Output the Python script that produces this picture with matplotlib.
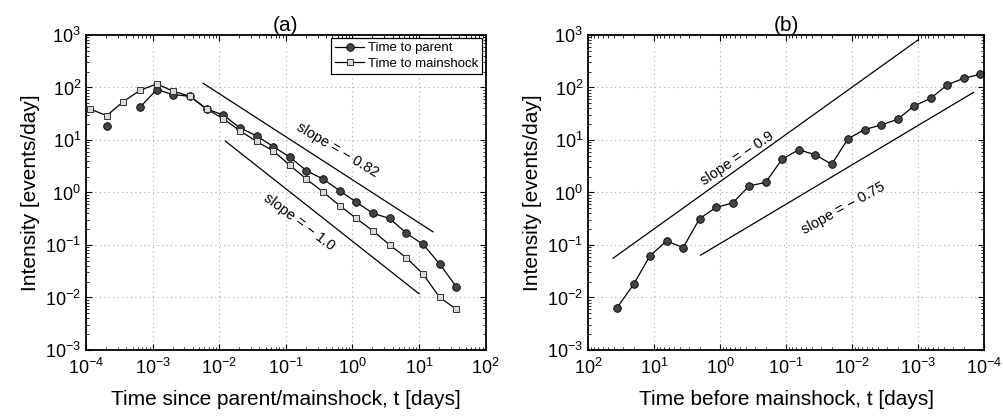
import numpy as np
import matplotlib
matplotlib.use("Agg")
import matplotlib.pyplot as plt
from matplotlib.ticker import LogLocator, NullFormatter

plt.rcParams["font.family"] = ["Liberation Sans", "DejaVu Sans"]
plt.rcParams["mathtext.fontset"] = "custom"
plt.rcParams["mathtext.rm"] = "Liberation Sans"
plt.rcParams["mathtext.it"] = "Liberation Sans:italic"

# bin centres in days (same bins for both panels)
t_days = [1.15e-4, 2.04e-4, 3.63e-4, 6.46e-4, 1.15e-3, 2.04e-3, 3.63e-3, 6.46e-3,
          1.15e-2, 2.04e-2, 3.63e-2, 6.46e-2, 0.115, 0.204, 0.363, 0.646,
          1.15, 2.04, 3.63, 6.46, 11.5, 20.4, 36.3]

# (a) aftershock intensity
rate_parent = [np.nan, 18.7, np.nan, 42, 91, 73, 68, 39, 30, 17, 12, 7.5,
               4.7, 2.6, 1.8, 1.08, 0.65, 0.40, 0.32, 0.167, 0.103, 0.0435, 0.016]
rate_mainshock = [39, 29, 54, 88, 117, 85, 68, 39, 25.5, 15, 9.4, 6.2,
                  3.3, 1.8, 1.02, 0.56, 0.32, 0.185, 0.10, 0.057, 0.028, 0.010, 0.006]

# (b) foreshock intensity, listed from earliest (largest t) to latest
t_before = [36.3, 20.4, 11.5, 6.46, 3.63, 2.04, 1.15, 0.646, 0.363, 0.204, 0.115,
            6.46e-2, 3.63e-2, 2.04e-2, 1.15e-2, 6.46e-3, 3.63e-3, 2.04e-3, 1.15e-3,
            6.46e-4, 3.63e-4, 2.04e-4, 1.15e-4]
rate_before = [0.0064, 0.0178, 0.0625, 0.119, 0.089, 0.318, 0.52, 0.63, 1.33,
               1.56, 4.3, 6.5, 5.25, 3.44, 10.6, 15.8, 19.3, 24.8, 44.5, 62,
               112, 150, 178]

# reference power laws: (slope, t_start, t_end, value at t_start)
ref_a = [(-0.82, 5.75e-3, 16.2, 120), (-1.0, 1.24e-2, 10.0, 9.5)]
ref_b = [(-0.9, 41.7, 1.02e-3, 0.056), (-0.75, 1.97, 1.45e-4, 0.064)]

fig = plt.figure(figsize=(10.04, 4.17), dpi=100)
ax1 = fig.add_axes([0.0857, 0.1607, 0.398, 0.7554])
ax2 = fig.add_axes([0.5857, 0.1607, 0.3945, 0.7554])


def style(ax):
    ax.set_xscale("log")
    ax.set_yscale("log")
    ax.set_ylim(1e-3, 1e3)
    ax.xaxis.set_major_locator(LogLocator(base=10, numticks=20))
    ax.xaxis.set_minor_locator(LogLocator(base=10, subs=np.arange(2, 10), numticks=20))
    ax.yaxis.set_major_locator(LogLocator(base=10, numticks=20))
    ax.yaxis.set_minor_locator(LogLocator(base=10, subs=np.arange(2, 10), numticks=20))
    ax.xaxis.set_minor_formatter(NullFormatter())
    ax.yaxis.set_minor_formatter(NullFormatter())
    ax.tick_params(which="both", direction="in", top=True, right=True, labelsize=13)
    ax.tick_params(which="major", length=4, width=0.8)
    ax.tick_params(which="minor", length=2, width=0.6)
    ax.tick_params(axis="x", pad=6)
    ax.grid(True, which="major", linestyle=(0, (1, 3)), color="#aaaaaa", linewidth=0.8)
    for s in ax.spines.values():
        s.set_linewidth(1.3)
    ax.set_ylabel("Intensity [events/day]", fontsize=15, labelpad=4)


style(ax1)
ax1.set_xlim(1e-4, 1e2)
ax1.plot(t_days, rate_parent, "-o", color="black", lw=0.9, ms=5.5,
         mfc="#444444", mec="black", mew=0.6, label="Time to parent")
ax1.plot(t_days, rate_mainshock, "-s", color="black", lw=0.9, ms=4.5,
         mfc="#d9d9d9", mec="#333333", mew=0.7, label="Time to mainshock")
for slope, t0, t1, r0 in ref_a:
    ax1.plot([t0, t1], [r0, r0 * (t1 / t0) ** slope], color="black", lw=0.9)
ax1.text(0.6, 6.5, "slope = \u2212 0.82", rotation=-31, fontsize=10.5,
         ha="center", va="center")
ax1.text(0.156, 0.274, "slope = \u2212 1.0", rotation=-37, fontsize=10.5,
         ha="center", va="center")
leg = ax1.legend(loc="upper right", fontsize=9.5, handlelength=2.2,
                 handletextpad=0.3, borderpad=0.3, labelspacing=0.25,
                 borderaxespad=0.25, fancybox=False, framealpha=1,
                 edgecolor="black")
leg.get_frame().set_linewidth(0.9)
ax1.set_title("(a)", fontsize=15, pad=2)
ax1.set_xlabel("Time since parent/mainshock, t [days]", fontsize=15, labelpad=8)

style(ax2)
ax2.set_xlim(1e2, 1e-4)
ax2.plot(t_before, rate_before, "-o", color="black", lw=0.9, ms=5.5,
         mfc="#444444", mec="black", mew=0.6)
for slope, t0, t1, r0 in ref_b:
    ax2.plot([t0, t1], [r0, r0 * (t1 / t0) ** slope], color="black", lw=0.9)
ax2.text(0.545, 4.5, "slope = \u2212 0.9", rotation=34, fontsize=10.5,
         ha="center", va="center")
ax2.text(0.0135, 0.51, "slope = \u2212 0.75", rotation=29, fontsize=10.5,
         ha="center", va="center")
ax2.set_title("(b)", fontsize=15, pad=2)
ax2.set_xlabel("Time before mainshock, t [days]", fontsize=15, labelpad=8)

fig.savefig("out.png", dpi=100)
